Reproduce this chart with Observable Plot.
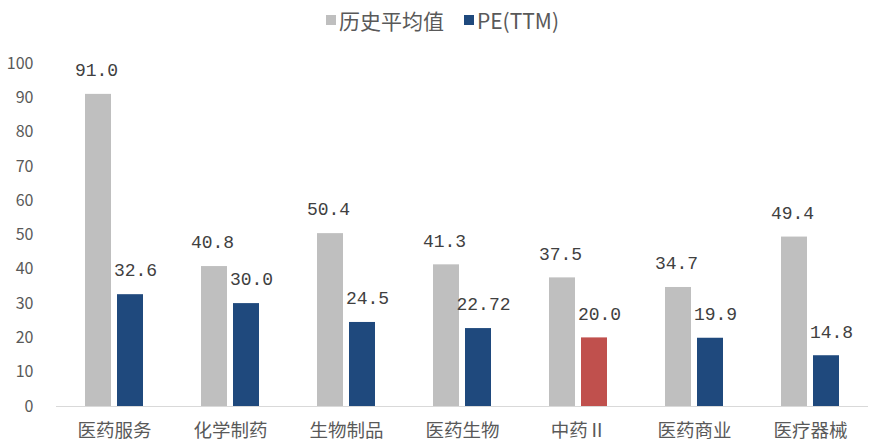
<!DOCTYPE html>
<html><head><meta charset="utf-8">
<script src="https://cdn.jsdelivr.net/npm/d3@7"></script>
<script src="https://cdn.jsdelivr.net/npm/@observablehq/plot@0.6"></script>
<style>
body{margin:0;background:#fff;font-family:"Noto Sans CJK SC","Noto Sans",sans-serif;}
#legend{height:40px;display:flex;justify-content:center;align-items:center;gap:20px;font-size:21px;color:#595959;padding-left:8px;box-sizing:border-box;}
#legend span.sw{display:inline-block;width:10px;height:10px;margin-right:3px;vertical-align:middle;}
#legend .item{display:flex;align-items:center;}
</style></head>
<body>
<div id="legend"></div>
<div id="chart"></div>
<script>
const categories = ["医药服务","化学制药","生物制品","医药生物","中药Ⅱ","医药商业","医疗器械"];
const seriesNames = ["历史平均值","PE(TTM)"];
const histValues = [91.0, 40.8, 50.4, 41.3, 37.5, 34.7, 49.4];
const peValues = [32.6, 30.0, 24.5, 22.72, 20.0, 19.9, 14.8];
const peLabels = ["32.6","30.0","24.5","22.72","20.0","19.9","14.8"];
const histLabels = ["91.0","40.8","50.4","41.3","37.5","34.7","49.4"];
const highlight = "中药Ⅱ";
const yTicks = [0,10,20,30,40,50,60,70,80,90,100];

const colors = {"历史平均值":"#BFBFBF","PE(TTM)":"#1F497D"};
const red = "#C0504D";

const rows = [];
categories.forEach((c,i)=>{
  rows.push({cat:c, series:seriesNames[0], value:histValues[i], label:histLabels[i], color:colors[seriesNames[0]]});
  rows.push({cat:c, series:seriesNames[1], value:peValues[i], label:peLabels[i], color: c===highlight ? red : colors[seriesNames[1]]});
});
const histRows = rows.filter(d=>d.series===seriesNames[0]);
const peRows = rows.filter(d=>d.series===seriesNames[1]);

const lg = document.getElementById("legend");
seriesNames.forEach(s=>{
  const d = document.createElement("div"); d.className="item";
  d.innerHTML = `<span class="sw" style="background:${colors[s]}"></span>${s}`;
  lg.appendChild(d);
});

const labelStyle = {fontSize:18, fontFamily:'"Liberation Mono","DejaVu Sans Mono",monospace', fill:"#404040"};
const chart = Plot.plot({
  width: 877,
  height: 408,
  marginTop: 23,
  marginBottom: 42,
  marginLeft: 53,
  marginRight: 7,
  style: {fontFamily: '"Noto Sans CJK SC","Noto Sans",sans-serif', background:"#fff"},
  fx: {domain: categories, padding: 0, label: null, axis: null},
  x: {domain: seriesNames, paddingInner: 0.18, paddingOuter: 0.86, axis: null},
  y: {domain: [0,100], axis: null},
  marks: [
    Plot.axisY({ticks: yTicks, tickSize: 0, tickPadding: 23, fontSize: 16, fill:"#595959", label: null, anchor:"left"}),
    Plot.axisFx({tickSize: 0, tickPadding: 17, fontSize: 18.5, fill:"#595959", label: null, anchor:"bottom"}),
    Plot.barY(rows, {fx:"cat", x:"series", y:"value", fill: d=>d.color}),
    Plot.ruleY([0], {stroke:"#D9D9D9", strokeWidth:1.2}),
    Plot.text(histRows, {fx:"cat", x:"series", y:"value", text:"label", dy:-24, dx:-2, ...labelStyle}),
    Plot.text(peRows, {fx:"cat", x:"series", y:"value", text:"label", dy:-24, dx:5, ...labelStyle})
  ]
});
document.getElementById("chart").appendChild(chart);
</script>
</body></html>
